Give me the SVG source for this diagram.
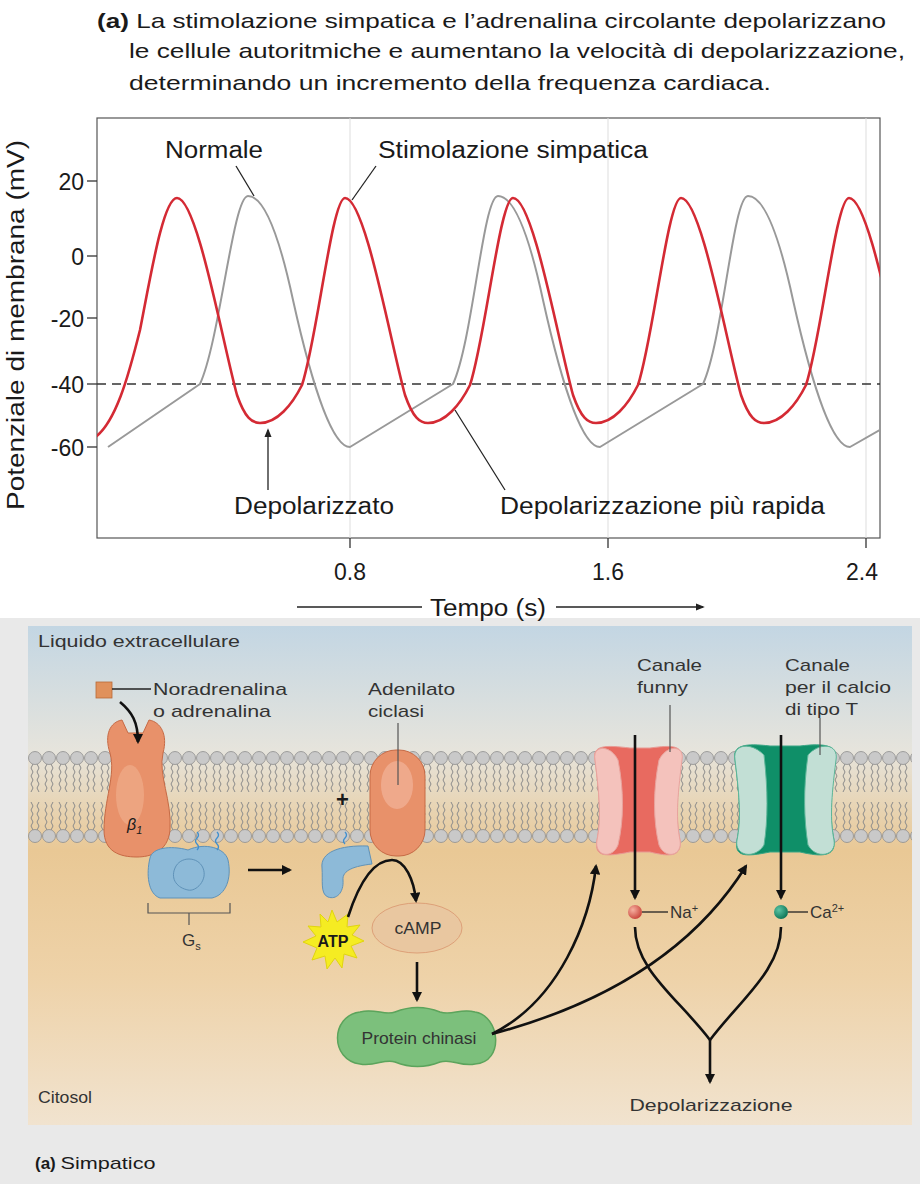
<svg xmlns="http://www.w3.org/2000/svg" width="920" height="1184" viewBox="0 0 920 1184">
<defs>
<style>
.t{font-family:"Liberation Sans",Arial,sans-serif;fill:#1a1a1a}
.g{font-size:23px}
.c{font-size:17px;fill:#333}
.ln{stroke:#222;stroke-width:1.3;fill:none}
.ar{stroke:#111;stroke-width:2.6;fill:none;marker-end:url(#ah)}
.ld{stroke:#555;stroke-width:1.2;fill:none}
</style>
<marker id="ah" viewBox="0 0 10 10" refX="8" refY="5" markerWidth="4" markerHeight="4" orient="auto"><path d="M0,0L10,5L0,10z" fill="#111"/></marker>
<marker id="ah2" viewBox="0 0 10 10" refX="8" refY="5" markerWidth="7" markerHeight="7" orient="auto"><path d="M0,1L10,5L0,9z" fill="#222"/></marker>
<linearGradient id="bg" x1="0" y1="0" x2="0" y2="1">
<stop offset="0" stop-color="#c3d6e3"/><stop offset="0.25" stop-color="#e6e4dc"/><stop offset="0.45" stop-color="#e9c895"/><stop offset="0.7" stop-color="#eed2a8"/><stop offset="1" stop-color="#f1e3cf"/></linearGradient>
<pattern id="mem" width="14" height="94" patternUnits="userSpaceOnUse" x="28" y="750">
<circle cx="7" cy="8" r="6.5" fill="#c9c9c9" stroke="#8d8d8d" stroke-width="0.8"/>
<circle cx="7" cy="86" r="6.5" fill="#c9c9c9" stroke="#8d8d8d" stroke-width="0.8"/>
<path d="M5,14 l-2,4 l2,4 l-2,4 l2,4 l-2,4 l2,4 l-2,4 M9,14 l2,4 l-2,4 l2,4 l-2,4 l2,4 l-2,4 l2,4 M5,80 l-2,-4 l2,-4 l-2,-4 l2,-4 l-2,-4 l2,-4 l-2,-4 M9,80 l2,-4 l-2,-4 l2,-4 l-2,-4 l2,-4 l-2,-4 l2,-4" stroke="#8a8a8a" stroke-width="1" fill="none"/>
</pattern>
<clipPath id="plot"><rect x="97" y="118" width="783" height="420"/></clipPath>
<radialGradient id="na" cx="0.35" cy="0.35" r="0.7"><stop offset="0" stop-color="#f6b0a0"/><stop offset="1" stop-color="#c9443a"/></radialGradient>
<radialGradient id="ca" cx="0.35" cy="0.35" r="0.7"><stop offset="0" stop-color="#5cc4a4"/><stop offset="1" stop-color="#0b7456"/></radialGradient>
</defs>
<rect width="920" height="1184" fill="#fff"/>
<rect x="0" y="618" width="920" height="566" fill="#e9e9e9"/>

<g id="title" class="t" font-size="21">
<text x="97" y="28" textLength="789" lengthAdjust="spacingAndGlyphs"><tspan font-weight="bold">(a)</tspan> La stimolazione simpatica e l’adrenalina circolante depolarizzano</text>
<text x="129" y="58" textLength="776" lengthAdjust="spacingAndGlyphs">le cellule autoritmiche e aumentano la velocità di depolarizzazione,</text>
<text x="129" y="90" textLength="642" lengthAdjust="spacingAndGlyphs">determinando un incremento della frequenza cardiaca.</text>
</g>

<g id="graph">
<rect x="97" y="118" width="783" height="420" fill="#fff" stroke="#555" stroke-width="1.2"/>
<g stroke="#ddd" stroke-width="1"><line x1="350" y1="118" x2="350" y2="538"/><line x1="608" y1="118" x2="608" y2="538"/><line x1="866" y1="118" x2="866" y2="538"/></g>
<g stroke="#333" stroke-width="1.3"><line x1="87" y1="181" x2="97" y2="181"/><line x1="87" y1="256" x2="97" y2="256"/><line x1="87" y1="318" x2="97" y2="318"/><line x1="87" y1="384" x2="97" y2="384"/><line x1="87" y1="447" x2="97" y2="447"/><line x1="350" y1="538" x2="350" y2="548"/><line x1="608" y1="538" x2="608" y2="548"/><line x1="866" y1="538" x2="866" y2="548"/></g>
<g class="t g" text-anchor="end"><text x="84" y="190">20</text><text x="84" y="265">0</text><text x="84" y="327">-20</text><text x="84" y="393">-40</text><text x="84" y="456">-60</text></g>
<g class="t g" text-anchor="middle"><text x="350" y="580">0.8</text><text x="608" y="580">1.6</text><text x="862" y="580">2.4</text><text x="488" y="616" textLength="116" lengthAdjust="spacingAndGlyphs">Tempo (s)</text></g>
<text class="t g" transform="translate(24,325) rotate(-90)" text-anchor="middle" textLength="370" lengthAdjust="spacingAndGlyphs">Potenziale di membrana (mV)</text>
<line x1="297" y1="607" x2="422" y2="607" stroke="#222" stroke-width="1.3"/>
<line x1="556" y1="607" x2="703" y2="607" stroke="#222" stroke-width="1.3" marker-end="url(#ah2)"/>
<line x1="97" y1="384" x2="880" y2="384" stroke="#333" stroke-width="1.3" stroke-dasharray="9,6"/>
<g clip-path="url(#plot)" fill="none" stroke-linejoin="round">
<path stroke="#999" stroke-width="2" d="M108,447 L200,384 C220,340 233,196 248,196 C263,196 278,230 293,300 C313,390 333,447 350,447 L453,384 C473,340 483,196 498,196 C513,196 528,230 543,300 C563,390 583,447 600,447 L703,384 C723,340 733,196 748,196 C763,196 778,230 793,300 C813,390 833,447 850,447 L960,384"/>
<path stroke="#d42a34" stroke-width="2.6" d="M90,440 C115,430 130,370 140,330 C150,280 163,198 177,198 C197,198 222,340 237,395 C245,418 252,423 260,423 C277,423 292,405 302,385 C317,340 332,198 345,198 C365,198 390,340 405,395 C413,418 420,423 428,423 C445,423 460,405 470,385 C485,340 500,198 513,198 C533,198 558,340 573,395 C581,418 588,423 596,423 C613,423 628,405 638,385 C653,340 668,198 681,198 C701,198 726,340 741,395 C749,418 756,423 764,423 C781,423 796,405 806,385 C821,340 836,198 849,198 C869,198 894,340 909,395"/>
</g>
<g class="t g">
<text x="165" y="158" textLength="98" lengthAdjust="spacingAndGlyphs">Normale</text>
<text x="378" y="158" textLength="270" lengthAdjust="spacingAndGlyphs">Stimolazione simpatica</text>
<text x="234" y="514" textLength="160" lengthAdjust="spacingAndGlyphs">Depolarizzato</text>
<text x="500" y="514" textLength="325" lengthAdjust="spacingAndGlyphs">Depolarizzazione più rapida</text></g>
<g stroke="#222" stroke-width="1.3" fill="none"><path d="M236,166 L254,196"/><path d="M376,166 L352,200"/><path d="M505,490 L455,410"/></g>
<line x1="268" y1="490" x2="268" y2="430" stroke="#222" stroke-width="1.3" marker-end="url(#ah2)"/>
</g>

<g id="cell">
<rect x="28" y="626" width="884" height="499" fill="url(#bg)"/>
<rect x="28" y="750" width="884" height="94" fill="url(#mem)"/>
<text class="t c" x="38" y="647" textLength="202" lengthAdjust="spacingAndGlyphs">Liquido extracellulare</text>
<text class="t c" x="38" y="1103" textLength="54" lengthAdjust="spacingAndGlyphs">Citosol</text>
</g>

<g id="ligand">
<rect x="96" y="682" width="16" height="16" fill="#e0915c" stroke="#b86a38" stroke-width="0.8"/>
<line x1="112" y1="689" x2="151" y2="689" class="ln"/>
<text class="t c" x="153" y="695" textLength="134" lengthAdjust="spacingAndGlyphs">Noradrenalina</text>
<text class="t c" x="153" y="717" textLength="118" lengthAdjust="spacingAndGlyphs">o adrenalina</text>
</g>

<g id="beta1">
<path d="M110,753 C104,735 110,722 122,720 L128,733 L143,733 L149,720 C161,722 168,735 163,753 C158,775 172,800 170,830 C168,852 150,857 137,857 C120,857 104,852 104,830 C104,800 116,775 110,753 Z" fill="#e8916a" stroke="#c66a45"/>
<ellipse cx="130" cy="795" rx="14" ry="30" fill="#f0b090" opacity="0.6"/>
<text class="t" x="127" y="830" font-size="16" font-style="italic">β<tspan font-size="11" dy="4">1</tspan></text>
</g>

<g id="gs">
<path d="M150,858 C152,848 170,845 188,850 C205,842 225,848 228,860 C232,878 226,895 212,898 L160,898 C148,894 146,874 150,858 Z" fill="#8dbad8" stroke="#5f92b8"/>
<path d="M175,868 C180,856 198,856 203,868 C208,880 196,892 188,890 C178,888 170,880 175,868 Z" fill="none" stroke="#5f92b8"/>
<path d="M197,832 q3,3 0,6 q-3,3 0,6 q3,3 0,6 M217,832 q3,3 0,6 q-3,3 0,6 q3,3 0,6" stroke="#3f8fcf" stroke-width="1.3" fill="none"/>
<path d="M148,903 L148,913 L230,913 L230,903 M189,913 L189,925" class="ld"/>
<text class="t c" x="182" y="946">G<tspan font-size="11" dy="4">s</tspan></text>
</g>

<g id="galpha">
<path d="M345,832 q3,3 0,6 q-3,3 0,6" stroke="#3f8fcf" stroke-width="1.3" fill="none"/>
<path d="M322,868 C320,852 340,845 368,846 L372,864 C355,866 342,870 343,880 C344,893 336,900 328,897 C320,894 323,880 322,868 Z" fill="#8dbad8" stroke="#5f92b8"/>
<text class="t" x="336" y="807" font-size="22" font-weight="bold">+</text>
</g>

<g id="ac">
<rect x="370" y="750" width="55" height="106" rx="26" fill="#e8916a" stroke="#c66a45"/>
<ellipse cx="397" cy="785" rx="16" ry="24" fill="#f2b49a" opacity="0.7"/>
<line x1="398" y1="723" x2="398" y2="785" class="ld"/>
<text class="t c" x="368" y="695" textLength="87" lengthAdjust="spacingAndGlyphs">Adenilato</text>
<text class="t c" x="368" y="717" textLength="56" lengthAdjust="spacingAndGlyphs">ciclasi</text>
</g>

<g id="atp">
<polygon points="332,910 337,922 348,914 347,927 360,925 352,935 364,941 351,946 357,958 344,954 342,968 335,958 327,969 325,956 312,960 317,948 303,942 316,936 308,926 321,927 320,914 328,922" fill="#f5ec22" stroke="#e0d410"/>
<text class="t" x="333" y="947" font-size="16" text-anchor="middle" font-weight="bold">ATP</text>
</g>

<g id="camp">
<ellipse cx="417" cy="928" rx="45" ry="25" fill="#e9c7a0" stroke="#dda078"/>
<text class="t c" x="418" y="934" text-anchor="middle" textLength="47" lengthAdjust="spacingAndGlyphs">cAMP</text>
</g>

<g id="pk">
<path d="M360,1012 C375,1008 385,1016 395,1012 C410,1006 425,1006 440,1012 C452,1016 460,1008 475,1012 C500,1016 505,1062 475,1064 C460,1067 452,1058 440,1062 C425,1068 410,1068 395,1062 C385,1058 375,1067 360,1064 C330,1060 330,1016 360,1012 Z" fill="#7cc07c" stroke="#5ca45c" stroke-width="1.5"/>
<text class="t c" x="419" y="1044" text-anchor="middle" fill="#2d4a2d" textLength="115" lengthAdjust="spacingAndGlyphs">Protein chinasi</text>
</g>

<g id="funny">
<path d="M595,760 C592,745 605,745 630,748 L650,748 C672,745 684,745 681,760 C676,800 676,820 680,840 C682,857 670,857 650,852 L630,852 C605,857 594,857 597,840 C601,820 600,800 595,760 Z" fill="#e86a60" stroke="#e89a94"/>
<path d="M595,760 C592,745 610,744 618,760 C624,790 624,820 618,845 C612,860 594,856 597,840 C601,820 600,800 595,760 Z" fill="#f4c2bc" stroke="#e8a49e"/>
<path d="M682,760 C685,745 667,744 659,760 C653,790 653,820 659,845 C665,860 683,856 680,840 C676,820 677,800 682,760 Z" fill="#f4c2bc" stroke="#e8a49e"/>
<line x1="670" y1="705" x2="670" y2="752" class="ld"/>
<text class="t c" x="637" y="671" textLength="65" lengthAdjust="spacingAndGlyphs">Canale</text>
<text class="t c" x="637" y="693" textLength="51" lengthAdjust="spacingAndGlyphs">funny</text>
</g>

<g id="tca">
<path d="M735,760 C732,745 745,743 770,746 L800,746 C825,743 838,745 835,760 C830,800 830,820 834,840 C836,857 822,857 800,852 L770,852 C745,857 734,857 737,840 C741,820 740,800 735,760 Z" fill="#0f8f68" stroke="#3aa585"/>
<path d="M735,760 C732,743 752,742 764,755 C768,790 768,820 764,845 C755,860 734,856 737,840 C741,820 740,800 735,760 Z" fill="#c2dfd5" stroke="#5cb598"/>
<path d="M836,760 C839,743 819,742 808,755 C803,790 804,820 808,845 C816,860 837,856 834,840 C830,820 831,800 836,760 Z" fill="#c2dfd5" stroke="#5cb598"/>
<line x1="820" y1="718" x2="820" y2="755" class="ld"/>
<text class="t c" x="785" y="671" textLength="65" lengthAdjust="spacingAndGlyphs">Canale</text>
<text class="t c" x="785" y="693" textLength="106" lengthAdjust="spacingAndGlyphs">per il calcio</text>
<text class="t c" x="785" y="715" textLength="73" lengthAdjust="spacingAndGlyphs">di tipo T</text>
</g>

<g id="ions">
<circle cx="635" cy="912" r="7" fill="url(#na)"/>
<line x1="642" y1="912" x2="668" y2="912" class="ln"/>
<text class="t c" x="670" y="918">Na<tspan font-size="11" dy="-6">+</tspan></text>
<circle cx="781" cy="912" r="7" fill="url(#ca)"/>
<line x1="788" y1="912" x2="808" y2="912" class="ln"/>
<text class="t c" x="810" y="918">Ca<tspan font-size="11" dy="-6">2+</tspan></text>
<text class="t c" x="711" y="1111" text-anchor="middle" textLength="163" lengthAdjust="spacingAndGlyphs">Depolarizzazione</text>
</g>

<g id="connectors">
<path class="ar" d="M120,702 C132,712 138,722 138,742"/>
<path class="ar" d="M248,870 L290,870"/>
<path class="ar" d="M348,917 C360,880 375,860 392,860 C405,860 414,880 416,901"/>
<path class="ar" d="M417,962 L417,1000"/>
<path class="ar" d="M492,1034 C560,1000 590,920 596,866"/>
<path class="ar" d="M492,1034 C620,1000 700,940 746,866"/>
<path class="ar" d="M635,735 L635,898"/>
<path class="ar" d="M781,735 L781,898"/>
<path stroke="#111" stroke-width="2.6" fill="none" d="M635,927 C635,970 680,1000 710,1040 M781,927 C781,970 740,1000 710,1040"/>
<path class="ar" d="M710,1040 L710,1082"/>
</g>

<text class="t" x="35" y="1169" font-size="17"><tspan font-weight="bold">(a)</tspan> <tspan textLength="95" lengthAdjust="spacingAndGlyphs">Simpatico</tspan></text>
</svg>
